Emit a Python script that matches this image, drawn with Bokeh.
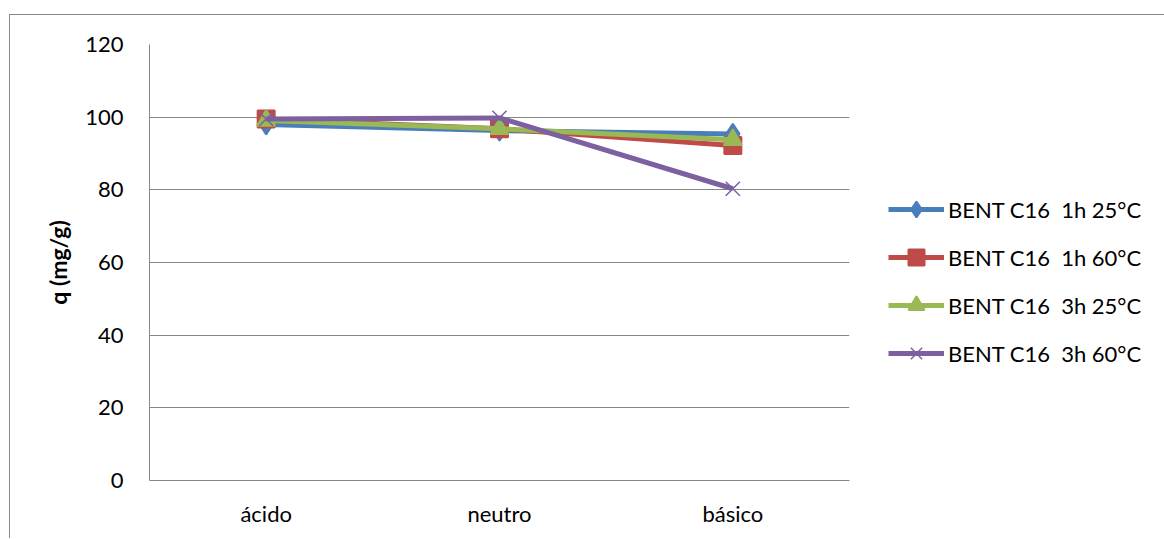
from bokeh.plotting import figure
from bokeh.models import FactorRange, Range1d, Legend, LegendItem, FixedTicker
from bokeh.embed import file_html
from bokeh.resources import INLINE

# pH conditions and adsorption capacity q (mg/g)
conditions = ["ácido", "neutro", "básico"]
q_1h_25 = [98.0, 96.3, 95.4]
q_1h_60 = [99.5, 96.8, 92.2]
q_3h_25 = [99.1, 96.8, 93.8]
q_3h_60 = [99.5, 99.8, 80.3]

series_names = ["BENT C16  1h 25°C", "BENT C16  1h 60°C", "BENT C16  3h 25°C", "BENT C16  3h 60°C"]
y_ticks = [0, 20, 40, 60, 80, 100, 120]

FONT = "Lato"
GRID = "#868686"

p = figure(
    frame_width=700, frame_height=436,
    x_range=FactorRange(*conditions, range_padding=0),
    y_range=Range1d(0, 120),
    output_backend="svg", toolbar_location=None,
    min_border_left=139, min_border_right=0, min_border_top=29, min_border_bottom=58,
)
# chart area border (top and left edges show inside the window)
p.styles = {
    "margin-left": "9px", "margin-top": "14px",
    "border-top": "1px solid #868686", "border-left": "1px solid #868686",
}
p.outline_line_color = None
p.background_fill_color = "white"
p.border_fill_color = "white"

p.xgrid.grid_line_color = None
p.ygrid.grid_line_color = GRID
p.ygrid.grid_line_width = 1
p.yaxis.ticker = FixedTicker(ticks=y_ticks)

for ax in (p.xaxis[0], p.yaxis[0]):
    ax.axis_line_color = GRID
    ax.axis_line_width = 1
    ax.major_tick_line_color = None
    ax.minor_tick_line_color = None
    ax.major_tick_out = 0
    ax.major_tick_in = 0
    ax.major_label_text_font = FONT
    ax.major_label_text_font_size = "22px"
    ax.major_label_text_color = "black"

p.yaxis.major_label_standoff = 26
p.xaxis.major_label_standoff = 19
p.yaxis.axis_label = "q (mg/g)"
p.yaxis.axis_label_text_font = FONT
p.yaxis.axis_label_text_font_size = "23px"
p.yaxis.axis_label_text_font_style = "bold"
p.yaxis.axis_label_text_color = "black"
p.yaxis.axis_label_standoff = 10

styles = [
    (q_1h_25, "#4A7EBB", "diamond", 20, 2),
    (q_1h_60, "#BE4B48", "square", 17, 2),
    (q_3h_25, "#98B954", "triangle", 18, 2),
    (q_3h_60, "#7D60A0", "x", 20, 1.5),
]

items = []
for name, (vals, color, marker, size, lw) in zip(series_names, styles):
    ln = p.line(conditions, vals, line_color=color, line_width=5)
    mk = p.scatter(conditions, vals, marker=marker, size=size,
                   fill_color=color, line_color=color, line_width=lw)
    items.append(LegendItem(label=name, renderers=[ln, mk]))

legend = Legend(
    items=items, location=(39, 107),
    label_text_font=FONT, label_text_font_size="22px", label_text_color="black",
    glyph_width=56, glyph_height=40, label_height=40, label_standoff=4, spacing=8,
    padding=0, margin=0,
    background_fill_alpha=0, border_line_color=None,
)
p.add_layout(legend, "right")

open("out.html", "w").write(file_html(p, INLINE))
